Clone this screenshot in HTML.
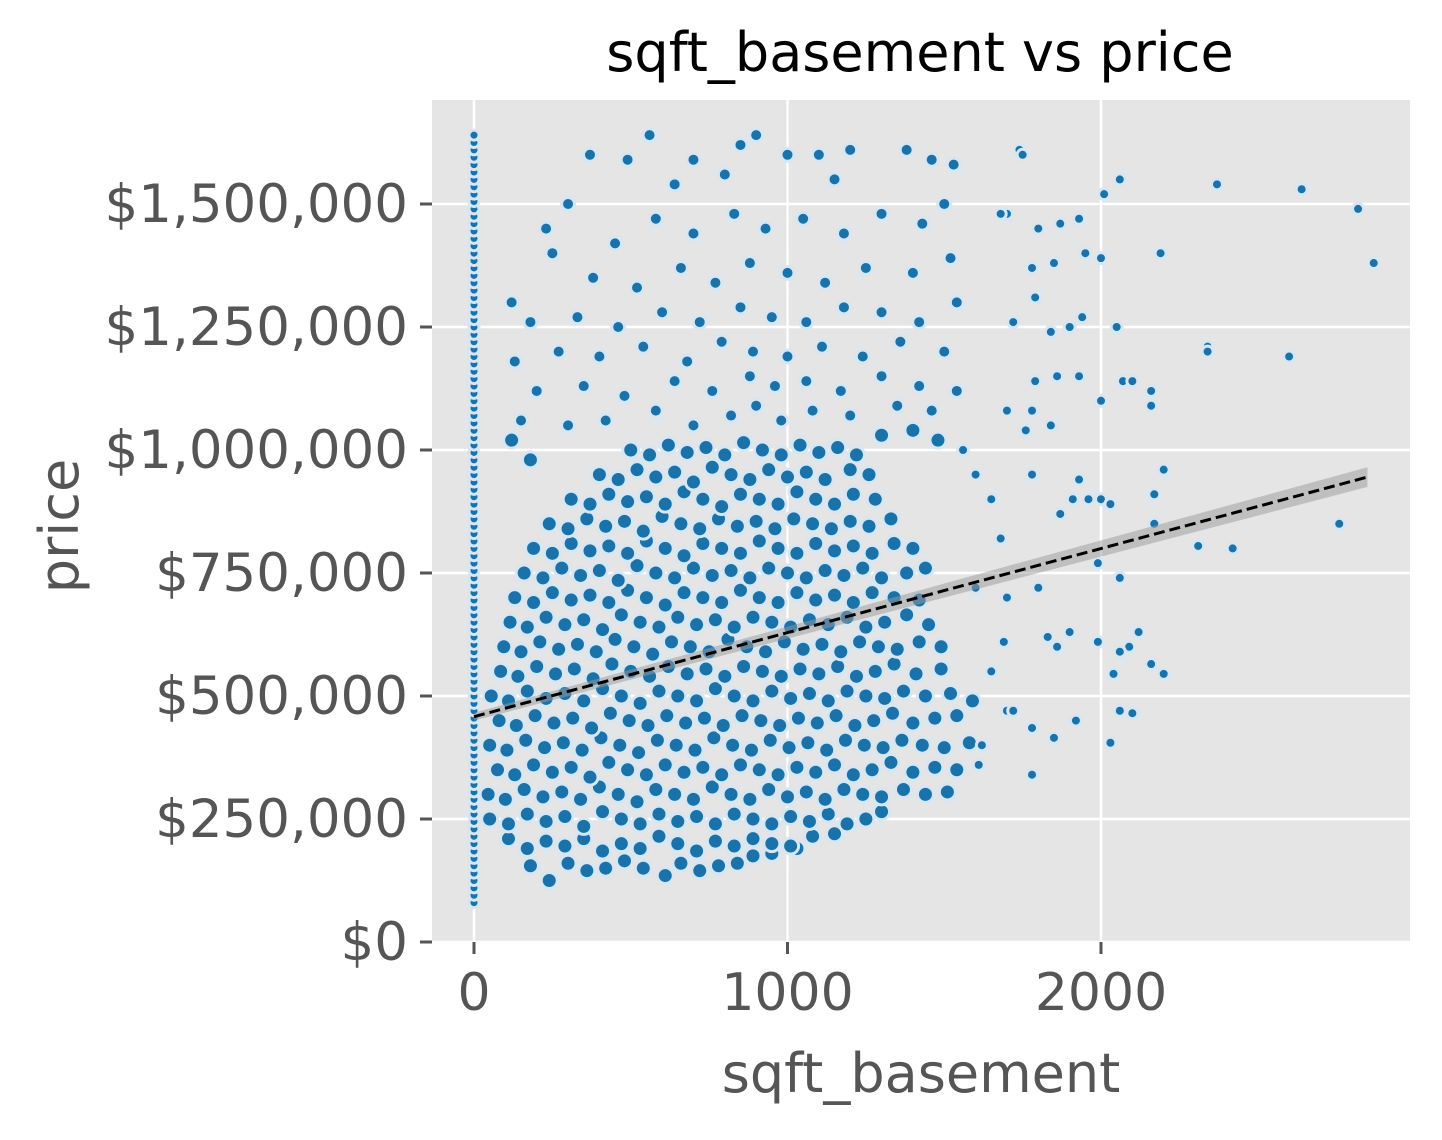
<!DOCTYPE html>
<html><head><meta charset="utf-8"><style>
body{margin:0;background:#fff;}
svg text{font-family:"DejaVu Sans","Liberation Sans",sans-serif;}
</style></head><body>
<svg id="chart" width="1442" height="1135" xmlns="http://www.w3.org/2000/svg">
<rect x="432" y="100" width="978" height="842" fill="#e5e5e5"/>
<g id="grid"></g>
<g id="ticks"></g>
<g id="pts"></g>
<g id="fit"></g>
<text x="920" y="71" font-size="54" text-anchor="middle" fill="#000">sqft_basement vs price</text>
<text x="921" y="1092" font-size="54" text-anchor="middle" fill="#555">sqft_basement</text>
<text x="78" y="526" font-size="54" text-anchor="middle" fill="#555" transform="rotate(-90 78 526)">price</text>
</svg>
<script>
const xTicks=[0,1000,2000];
const yTicks=[0,250000,500000,750000,1000000,1250000,1500000];
const yTickLabels=["$0","$250,000","$500,000","$750,000","$1,000,000","$1,250,000","$1,500,000"];
const zeroPrices=[80,95,110,125,140,155,170,185,200,215,230,245,260,275,290,305,320,335,350,365,380,395,410,425,440,455,470,485,500,515,530,545,560,575,590,605,620,635,650,665,680,695,710,725,740,755,770,785,800,815,830,845,860,875,890,905,920,935,950,965,980,995,1010,1025,1040,1055,1070,1085,1100,1115,1130,1145,1160,1175,1190,1205,1220,1235,1250,1265,1280,1295,1310,1325,1340,1355,1370,1385,1400,1415,1430,1445,1460,1475,1490,1505,1520,1535,1550,1565,1580,1595,1610,1625,1640];
const corePts=[
[180,155],[240,125],[300,160],[360,145],[420,150],[480,165],[540,150],[610,135],[660,160],[720,145],[780,155],[840,160],[890,175],[950,180],[1030,190],
[110,210],[170,190],[230,205],[290,195],[350,210],[410,185],[470,200],[530,190],[590,215],[650,200],[710,185],[770,205],[830,195],[890,210],[950,200],[1010,195],[1080,215],[1150,220],
[50,250],[110,240],[170,260],[230,245],[290,255],[350,235],[410,265],[470,250],[530,240],[590,260],[650,245],[710,255],[770,240],[830,260],[890,250],[950,240],[1010,255],[1070,245],[1130,260],[1190,240],[1250,250],[1300,265],
[45,300],[100,290],[160,310],[220,295],[280,305],[340,290],[400,315],[460,300],[520,285],[580,310],[640,300],[700,290],[760,315],[820,300],[880,290],[940,310],[1000,295],[1060,305],[1120,290],[1180,310],[1240,300],[1300,295],[1370,310],[1440,300],[1510,305],
[75,350],[130,340],[190,360],[250,345],[310,355],[370,335],[430,365],[490,350],[550,340],[610,360],[670,345],[730,355],[790,340],[850,360],[910,350],[970,340],[1030,355],[1090,345],[1150,360],[1210,340],[1270,350],[1330,365],[1400,345],[1470,355],[1540,350],
[50,400],[105,390],[165,410],[225,395],[285,405],[345,390],[405,415],[465,400],[525,385],[585,410],[645,400],[705,390],[765,415],[825,400],[885,390],[945,410],[1005,395],[1065,405],[1125,390],[1185,410],[1245,400],[1305,395],[1365,410],[1430,400],[1500,395],[1580,405],
[80,450],[135,440],[195,460],[255,445],[315,455],[375,435],[435,465],[495,450],[555,440],[615,460],[675,445],[735,455],[795,440],[855,460],[915,450],[975,440],[1035,455],[1095,445],[1155,460],[1215,440],[1275,450],[1335,465],[1400,445],[1470,455],[1540,460],
[55,500],[110,490],[170,510],[230,495],[290,505],[350,490],[410,515],[470,500],[530,485],[590,510],[650,500],[710,490],[770,515],[830,500],[890,490],[950,510],[1010,495],[1070,505],[1130,490],[1190,510],[1250,500],[1310,495],[1370,510],[1440,500],[1520,505],[1590,490],
[85,550],[140,540],[200,560],[260,545],[320,555],[380,535],[440,565],[500,550],[560,540],[620,560],[680,545],[740,555],[800,540],[860,560],[920,550],[980,540],[1040,555],[1100,545],[1160,560],[1220,540],[1280,550],[1340,565],[1410,545],[1490,555],
[95,600],[150,590],[210,610],[270,595],[330,605],[390,590],[450,615],[510,600],[570,585],[630,610],[690,600],[750,590],[810,615],[870,600],[930,590],[990,610],[1050,595],[1110,605],[1170,590],[1230,610],[1290,600],[1350,595],[1420,610],[1490,600],
[115,650],[170,640],[230,660],[290,645],[350,655],[410,635],[470,665],[530,650],[590,640],[650,660],[710,645],[770,655],[830,640],[890,660],[950,650],[1010,640],[1070,655],[1130,645],[1190,660],[1250,640],[1310,650],[1380,665],[1450,645],
[130,700],[190,690],[250,710],[310,695],[370,705],[430,690],[490,715],[550,700],[610,685],[670,710],[730,700],[790,690],[850,715],[910,700],[970,690],[1030,710],[1090,695],[1150,705],[1210,690],[1270,710],[1340,700],[1420,695],
[160,750],[220,740],[280,760],[340,745],[400,755],[460,735],[520,765],[580,750],[640,740],[700,760],[760,745],[820,755],[880,740],[940,760],[1000,750],[1060,740],[1120,755],[1180,745],[1240,760],[1300,740],[1380,750],[1440,760],
[190,800],[250,790],[310,810],[370,795],[430,805],[490,790],[550,815],[610,800],[670,785],[730,810],[790,800],[850,790],[910,815],[970,800],[1030,790],[1090,810],[1150,795],[1210,805],[1270,790],[1340,810],[1400,800],
[240,850],[300,840],[360,860],[420,845],[480,855],[540,835],[600,865],[660,850],[720,840],[780,860],[840,845],[900,855],[960,840],[1020,860],[1080,850],[1140,840],[1200,855],[1260,845],[1330,860],
[310,900],[370,890],[430,910],[490,895],[550,905],[610,890],[670,915],[730,900],[790,885],[850,910],[910,900],[970,890],[1030,915],[1090,900],[1150,890],[1210,910],[1280,900],
[400,950],[460,940],[520,960],[580,945],[640,955],[700,935],[760,965],[820,950],[880,940],[940,960],[1000,945],[1060,955],[1120,940],[1200,960],[1260,950],
[180,980],[120,1020],[500,1000],[560,990],[620,1010],[680,995],[740,1005],[800,990],[860,1015],[920,1000],[980,990],[1040,1010],[1100,995],[1160,1005],[1220,990],[1300,1030],[1400,1040],[1480,1020],
[150,1060],[300,1050],[420,1060],[580,1080],[700,1050],[820,1070],[900,1090],[980,1060],[1080,1080],[1200,1070],[1350,1090],[1460,1080],
[200,1120],[350,1130],[480,1110],[640,1140],[760,1120],[880,1150],[960,1130],[1060,1140],[1170,1120],[1300,1150],[1420,1130],[1540,1120],
[130,1180],[270,1200],[400,1190],[540,1210],[680,1180],[790,1220],[890,1200],[1000,1190],[1110,1210],[1240,1190],[1360,1220],[1500,1200],
[120,1300],[180,1260],[330,1270],[460,1250],[600,1280],[720,1260],[850,1290],[950,1270],[1060,1260],[1180,1290],[1300,1280],[1420,1260],[1540,1300],
[250,1400],[380,1350],[520,1330],[660,1370],[770,1340],[880,1380],[1000,1360],[1120,1340],[1250,1370],[1400,1360],[1520,1390],
[230,1450],[300,1500],[450,1420],[580,1470],[700,1440],[830,1480],[930,1450],[1050,1470],[1180,1440],[1300,1480],[1430,1460],[1500,1500],
[370,1600],[490,1590],[560,1640],[700,1590],[850,1620],[900,1640],[1000,1600],[1100,1600],[1200,1610],[1380,1610],[1460,1590],[1530,1580],[800,1560],[640,1540],[1150,1550]
];
const outlierPts=[[1700,1480],[1780,1370],[1800,1450],[1850,1380],[1870,1460],[1930,1470],[1950,1400],[2000,1390],[2010,1520],[2060,1550],[2370,1540],[2640,1530],[2820,1490],[2870,1380],[2190,1400],[2340,1210],[2340,1200],[2600,1190],[1840,1240],[1900,1250],[1940,1270],[2050,1250],[1790,1310],[1860,1150],[1930,1150],[2000,1100],[2070,1140],[2100,1140],[2160,1120],[2160,1090],[1780,1080],[1700,1080],[1760,1040],[1840,1050],[1790,1140],[2200,960],[1780,950],[1930,940],[1870,870],[1910,900],[1960,900],[2000,900],[2030,890],[2170,910],[2170,850],[2310,805],[2420,800],[2760,850],[1990,770],[2060,740],[1800,720],[1900,630],[1830,620],[1860,600],[1990,610],[2120,630],[2090,600],[2060,590],[2040,545],[2160,565],[2200,545],[2060,470],[2100,465],[1920,450],[1850,415],[1780,435],[2030,405],[1780,340],[1700,470],[1720,470],[1610,360],[1620,400],[1650,550],[1690,610],[1680,820],[1600,720],[1700,700],[1650,900],[1600,950],[1560,1000],[1720,1260],[1740,1610],[1750,1600],[1680,1480]];
const fitX=[0,2850];
const fitY=[458000,945000];
const fitBand=[8000,20000];

const NS="http://www.w3.org/2000/svg";
const xs=v=>474+v*0.3135;
const ys=v=>942-v*0.000492;
const grid=document.getElementById('grid'),ticks=document.getElementById('ticks'),pts=document.getElementById('pts'),fit=document.getElementById('fit');
function mk(tag,attrs,parent){const e=document.createElementNS(NS,tag);for(const k in attrs)e.setAttribute(k,attrs[k]);parent.appendChild(e);return e;}
xTicks.forEach(t=>{
  const l=mk('line',{x1:xs(t),x2:xs(t),y1:100,y2:942,stroke:'#fff','stroke-width':2.5},grid);
  
  
  const tk=mk('line',{x1:xs(t),x2:xs(t),y1:942,y2:954,stroke:'#555','stroke-width':3},ticks);
  
  
  const tx=mk('text',{x:xs(t),y:1010,'font-size':52,'text-anchor':'middle',fill:'#555'},ticks);
  tx.textContent=t;
  
  
});
yTicks.forEach((t,i)=>{
  const l=mk('line',{x1:432,x2:1410,y1:ys(t),y2:ys(t),stroke:'#fff','stroke-width':2.5},grid);
  
  
  const tk=mk('line',{x1:420,x2:432,y1:ys(t),y2:ys(t),stroke:'#555','stroke-width':3},ticks);
  
  
  const tx=mk('text',{x:408,y:ys(t)+18,'font-size':53,'text-anchor':'end',fill:'#555'},ticks);
  tx.textContent=yTickLabels[i];
  
  
});
function dot(x,p,r){
  const c=mk('circle',{cx:xs(x),cy:ys(p*1000),r:r,fill:'#1a72aa',stroke:'#d6e6f2','stroke-width':3},pts);
  
  
}
zeroPrices.forEach(p=>dot(0,p,5));
corePts.forEach(d=>dot(d[0],d[1],d[1]<1050?8:6.5));
outlierPts.forEach(d=>dot(d[0],d[1],5.5));
const band=mk('polygon',{points:[xs(fitX[0])+','+ys(fitY[0]+fitBand[0]),xs(fitX[1])+','+ys(fitY[1]+fitBand[1]),xs(fitX[1])+','+ys(fitY[1]-fitBand[1]),xs(fitX[0])+','+ys(fitY[0]-fitBand[0])].join(' '),fill:'#999','fill-opacity':0.5},fit);


const ln=mk('line',{x1:xs(fitX[0]),y1:ys(fitY[0]),x2:xs(fitX[1]),y2:ys(fitY[1]),stroke:'#000','stroke-width':3,'stroke-dasharray':'11,5'},fit);


</script>
</body></html>
